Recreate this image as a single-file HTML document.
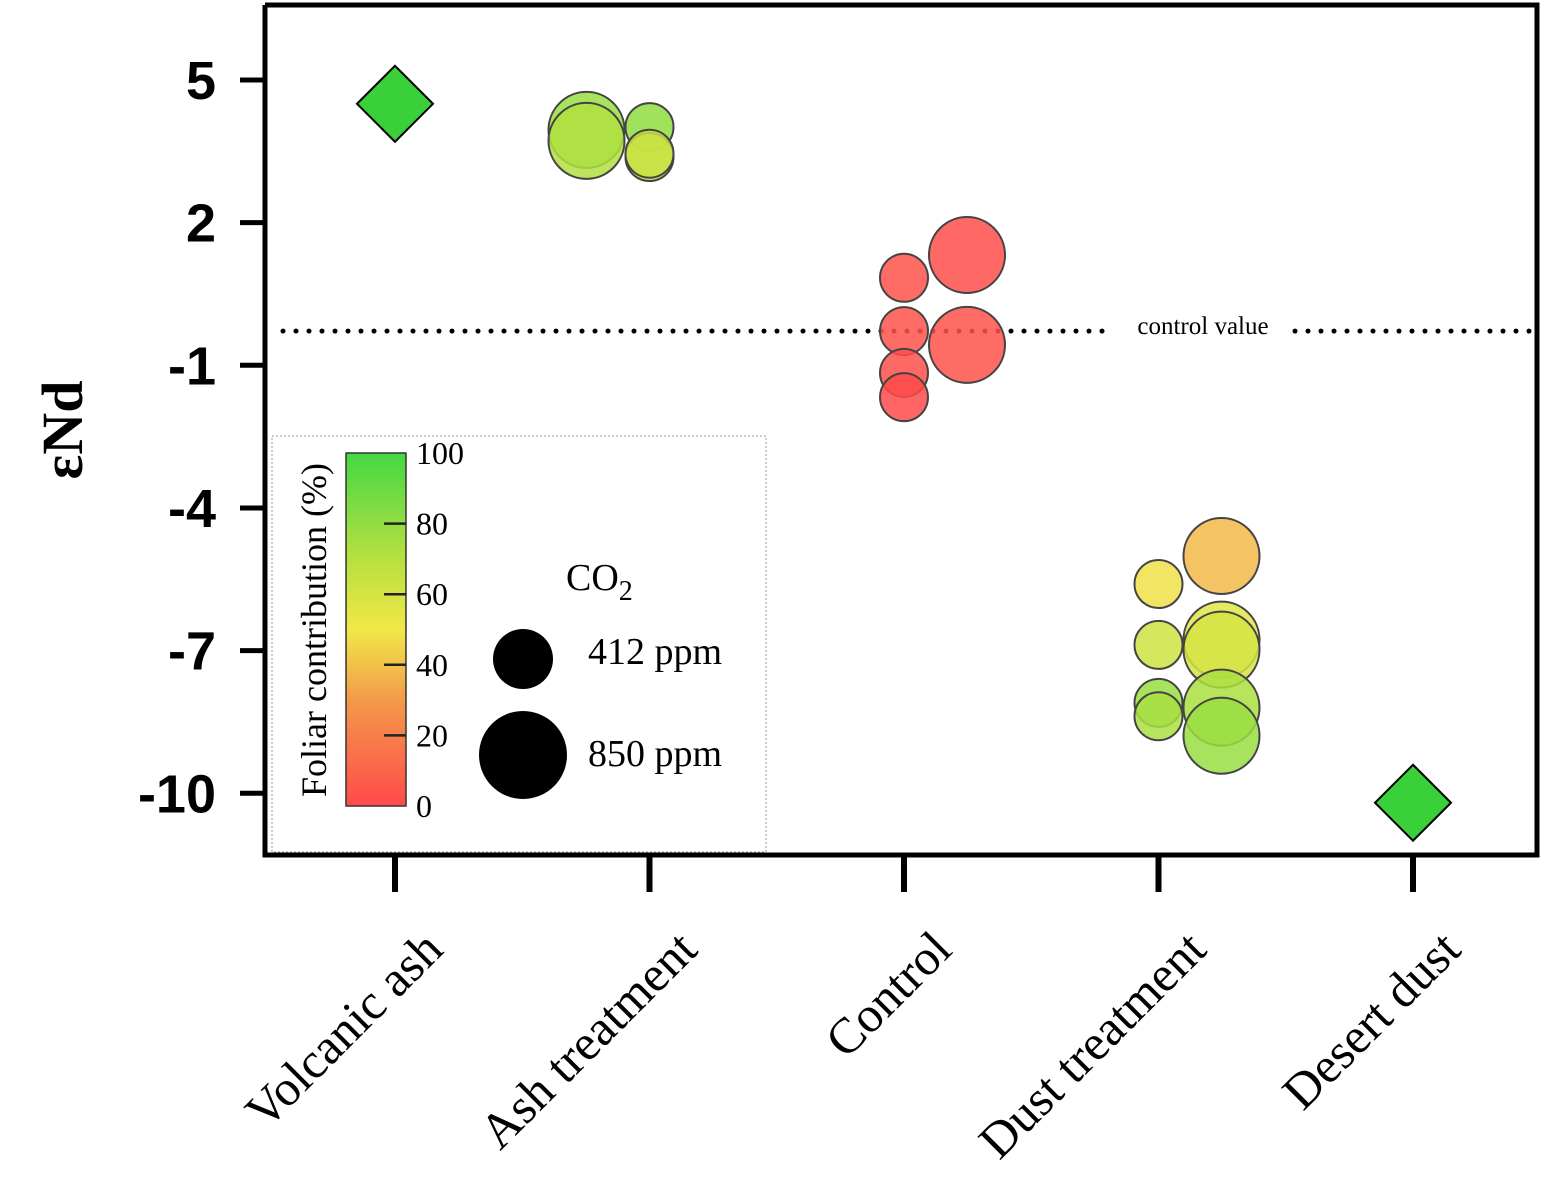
<!DOCTYPE html>
<html><head><meta charset="utf-8"><style>
html,body{margin:0;padding:0;background:#fff}
svg{display:block}
</style></head><body>
<svg id="chart" width="1553" height="1200" viewBox="0 0 1553 1200" xmlns="http://www.w3.org/2000/svg">
<defs>
<linearGradient id="cbar" x1="0" y1="1" x2="0" y2="0">
<stop offset="0" stop-color="#ff4a4a"/>
<stop offset="0.3" stop-color="#f39a4a"/>
<stop offset="0.5" stop-color="#f0e848"/>
<stop offset="0.7" stop-color="#b8e040"/>
<stop offset="1" stop-color="#44d844"/>
</linearGradient>
</defs>
<g id="plot"></g>
</svg>
<script>
const categories = ["Volcanic ash","Ash treatment","Control","Dust treatment","Desert dust"];
const yTicks = [5,2,-1,-4,-7,-10];
const controlValue = -0.28;
const ptCat = [1,1,1,1,1, 2,2,2,2,2,2, 3,3,3,3,3,3,3,3,3];
const ptCO2 = [850,850,412,412,412, 412,412,412,412,850,850, 412,412,412,412,850,850,850,850,850];
const ptVal = [3.95,3.72,4.01,3.38,3.45, 0.84,-0.28,-1.16,-1.67,1.32,-0.57, -5.6,-6.88,-8.1,-8.38,-5.01,-6.77,-6.98,-8.2,-8.79];
const ptFol = [78,72,80,60,65, 3,3,2,0,2,3, 48,62,78,74,38,55,60,74,78];
const diamondCat = [0,4];
const diamondVal = [4.5,-10.2];

const NS="http://www.w3.org/2000/svg";
const svg=document.getElementById('plot');
function mk(t,a,p){const e=document.createElementNS(NS,t);for(const k in a)e.setAttribute(k,a[k]);(p||svg).appendChild(e);return e;}
const yS=v=>80+(5-v)*47.55;
const xS=i=>395+i*254.5;
function colorFor(f){
 const st=[[0,[255,74,74]],[30,[243,154,74]],[50,[240,232,72]],[70,[184,224,64]],[100,[68,216,68]]];
 for(let i=1;i<st.length;i++){if(f<=st[i][0]){const a=st[i-1],b=st[i];const t=(f-a[0])/(b[0]-a[0]);
 return 'rgb('+a[1].map((c,j)=>Math.round(c+(b[1][j]-c)*t)).join(',')+')';}}
 return 'rgb(68,216,68)';
}
let e=mk('path',{d:'M265,5 V855 H1537 V5 H265',fill:'none',stroke:'#000','stroke-width':5});

yTicks.forEach(v=>{
 let t=mk('line',{x1:240,x2:265,y1:yS(v),y2:yS(v),stroke:'#000','stroke-width':5});
 
 let l=mk('text',{x:216,y:yS(v)+19,'text-anchor':'end','font-family':'Liberation Sans, sans-serif','font-weight':'bold','font-size':54});
 l.textContent=v;
});
categories.forEach((c,i)=>{
 let t=mk('line',{x1:xS(i),x2:xS(i),y1:855,y2:892,stroke:'#000','stroke-width':6});
 
 let l=mk('text',{x:0,y:0,'text-anchor':'end','font-family':'Liberation Serif, serif','font-size':50,transform:'translate('+(xS(i)+50)+',952) rotate(-45)'});
 l.textContent=c;
});
e=mk('text',{x:0,y:0,'text-anchor':'middle','font-family':'Liberation Serif, serif','font-weight':'bold','font-size':58,transform:'translate(82,430) rotate(-90)'});
e.textContent='εNd';
e=mk('line',{x1:283,x2:1115,y1:yS(controlValue),y2:yS(controlValue),stroke:'#000','stroke-width':5,'stroke-dasharray':'0 13','stroke-linecap':'round'});

e=mk('line',{x1:1295,x2:1535,y1:yS(controlValue),y2:yS(controlValue),stroke:'#000','stroke-width':5,'stroke-dasharray':'0 13','stroke-linecap':'round'});

e=mk('text',{x:1203,y:yS(controlValue)+3,'text-anchor':'middle','font-family':'Liberation Serif, serif','font-size':25});
e.textContent='control value';
e=mk('rect',{x:272,y:436,width:494,height:416,fill:'#fff',stroke:'#999','stroke-width':1,'stroke-dasharray':'2 2'});

e=mk('rect',{x:346,y:453,width:60,height:353,fill:'url(#cbar)',stroke:'#333','stroke-width':1.5});

[0,20,40,60,80,100].forEach(v=>{
 const y=806-v*3.53;
 if(v>0&&v<100){let t=mk('line',{x1:384,x2:406,y1:y,y2:y,stroke:'#222','stroke-width':2.5});
 }
 let l=mk('text',{x:416,y:y+11,'font-family':'Liberation Serif, serif','font-size':32});
 l.textContent=v;
});
e=mk('text',{x:0,y:0,'text-anchor':'middle','font-family':'Liberation Serif, serif','font-size':36,transform:'translate(326,630) rotate(-90)'});
e.textContent='Foliar contribution (%)';
e=mk('text',{x:566,y:590,'font-family':'Liberation Serif, serif','font-size':38});
e.innerHTML='CO<tspan font-size="28" dy="10">2</tspan>';
e=mk('circle',{cx:523,cy:659,r:30,fill:'#000'});
e=mk('circle',{cx:523,cy:755,r:44,fill:'#000'});
e=mk('text',{x:588,y:664,'font-family':'Liberation Serif, serif','font-size':38});e.textContent='412 ppm';
e=mk('text',{x:588,y:766,'font-family':'Liberation Serif, serif','font-size':38});e.textContent='850 ppm';
ptVal.forEach((v,i)=>{
 const big=ptCO2[i]>600;
 const cx=xS(ptCat[i])+(big?(ptCat[i]===1?-63:63):0);
 let c=mk('circle',{cx:cx,cy:yS(v),r:big?38:24,fill:colorFor(ptFol[i]),'fill-opacity':0.85,stroke:'#444','stroke-width':2});
 
});
diamondVal.forEach((v,i)=>{
 const cx=xS(diamondCat[i]),cy=yS(v),s=38;
 let d=mk('polygon',{points:[cx,cy-s,cx+s,cy,cx,cy+s,cx-s,cy].join(' '),fill:'#3ad03a',stroke:'#000','stroke-width':2});
 
});
</script>
</body></html>
